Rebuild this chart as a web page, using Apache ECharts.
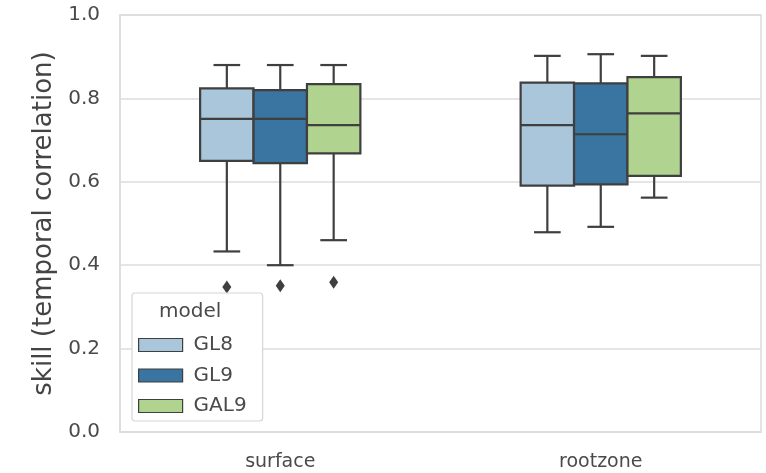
<!DOCTYPE html>
<html>
<head>
<meta charset="utf-8">
<script src="https://cdn.jsdelivr.net/npm/echarts@6/dist/echarts.min.js"></script>
<style>
html,body{margin:0;padding:0;background:#fff;}
#chart{width:766px;height:473px;}
</style>
</head>
<body>
<div id="chart"></div>
<script>
// ---- data ----
const categories = ['surface', 'rootzone'];
const models = ['GL8', 'GL9', 'GAL9'];
const yTicks = [0, 0.2, 0.4, 0.6, 0.8, 1.0];
// per category: [lower whisker, Q1, median, Q3, upper whisker]
const GL8 = [[0.433, 0.650, 0.751, 0.824, 0.880], [0.479, 0.591, 0.736, 0.838, 0.902]];
const GL9 = [[0.400, 0.645, 0.751, 0.820, 0.880], [0.492, 0.594, 0.714, 0.836, 0.906]];
const GAL9 = [[0.460, 0.668, 0.736, 0.834, 0.880], [0.562, 0.614, 0.764, 0.851, 0.902]];
// outliers: [category index, value]
const GL8_out = [[0, 0.348]];
const GL9_out = [[0, 0.351]];
const GAL9_out = [[0, 0.359]];

const boxData = [GL8, GL9, GAL9];
const outData = [GL8_out, GL9_out, GAL9_out];
const colors = ['#aac6db', '#3a74a0', '#b0d490'];
const edge = '#3f3f3f';
const offsets = [-1 / 6, 0, 1 / 6];
const BOX_FRAC = 1 / 6;
const FONT = 'DejaVu Sans';

function boxRender(off) {
  return function (params, api) {
    const cat = api.value(0);
    const band = api.size([1, 0])[0];
    const cx = api.coord([cat, 0])[0] + off * band;
    const w = BOX_FRAC * band;
    const y = i => api.coord([cat, api.value(i)])[1];
    const yMin = y(1), yQ1 = y(2), yMed = y(3), yQ3 = y(4), yMax = y(5);
    const ls = { stroke: edge, lineWidth: 2.2 };
    return {
      type: 'group',
      children: [
        { type: 'line', shape: { x1: cx, y1: yQ3, x2: cx, y2: yMax }, style: ls },
        { type: 'line', shape: { x1: cx, y1: yQ1, x2: cx, y2: yMin }, style: ls },
        { type: 'line', shape: { x1: cx - w / 4, y1: yMax, x2: cx + w / 4, y2: yMax }, style: ls },
        { type: 'line', shape: { x1: cx - w / 4, y1: yMin, x2: cx + w / 4, y2: yMin }, style: ls },
        { type: 'rect', shape: { x: cx - w / 2, y: yQ3, width: w, height: yQ1 - yQ3 },
          style: { fill: api.visual('color'), stroke: edge, lineWidth: 2.2 } },
        { type: 'line', shape: { x1: cx - w / 2, y1: yMed, x2: cx + w / 2, y2: yMed }, style: ls }
      ]
    };
  };
}
function outRender(off) {
  return function (params, api) {
    const cat = api.value(0);
    const band = api.size([1, 0])[0];
    const p = api.coord([cat, api.value(1)]);
    const cx = p[0] + off * band, cy = p[1];
    return {
      type: 'polygon',
      shape: { points: [[cx, cy - 6.5], [cx + 4.5, cy], [cx, cy + 6.5], [cx - 4.5, cy]] },
      style: { fill: edge }
    };
  };
}

const series = [];
models.forEach((m, k) => {
  series.push({
    name: m,
    type: 'custom',
    renderItem: boxRender(offsets[k]),
    itemStyle: { color: colors[k] },
    encode: { x: 0, y: [1, 2, 3, 4, 5] },
    data: boxData[k].map((d, i) => [i].concat(d)),
    z: 3
  });
});
models.forEach((m, k) => {
  series.push({
    name: m + ' outliers',
    type: 'custom',
    renderItem: outRender(offsets[k]),
    itemStyle: { color: edge },
    encode: { x: 0, y: 1 },
    data: outData[k],
    z: 3
  });
});

const chart = echarts.init(document.getElementById('chart'), null, { renderer: 'canvas' });
chart.setOption({
  animation: false,
  backgroundColor: '#fff',
  textStyle: { fontFamily: FONT },
  grid: { left: 120, right: 5, top: 15, bottom: 41, show: true, borderColor: '#dcdcdc', borderWidth: 1.5 },
  title: {
    text: 'model', left: 159, top: 302, z: 10, padding: 0,
    textStyle: { fontFamily: FONT, fontSize: 20, fontWeight: 'normal', color: '#4a4a4a' }
  },
  legend: {
    orient: 'vertical', left: 132, top: 293, z: 9,
    backgroundColor: '#fff', borderColor: '#d6d6d6', borderWidth: 1.2, borderRadius: 3,
    padding: [42, 16, 5, 6],
    itemWidth: 44, itemHeight: 13, itemGap: 10.5,
    textStyle: { fontFamily: FONT, fontSize: 20, color: '#4a4a4a', padding: [0, 0, 0, 6] },
    data: models.map((m, k) => ({
      name: m, icon: 'rect',
      itemStyle: { color: colors[k], borderColor: edge, borderWidth: 1.2 }
    }))
  },
  xAxis: {
    type: 'category', data: categories,
    axisLine: { show: true, lineStyle: { color: '#dcdcdc', width: 1.5 } },
    axisTick: { show: false },
    axisLabel: { fontFamily: FONT, fontSize: 19, color: '#4a4a4a', margin: 21 },
    splitLine: { show: false }
  },
  yAxis: {
    type: 'value', min: 0, max: 1, interval: 0.2,
    name: 'skill (temporal correlation)', nameLocation: 'middle', nameGap: 60,
    nameTextStyle: { fontFamily: FONT, fontSize: 26, color: '#444' },
    axisLine: { show: true, lineStyle: { color: '#dcdcdc', width: 1.5 } },
    axisTick: { show: false },
    axisLabel: { fontFamily: FONT, fontSize: 20, color: '#4a4a4a', margin: 20,
      formatter: v => { const t = yTicks.find(x => Math.abs(x - v) < 1e-9); return (t !== undefined ? t : v).toFixed(1); } },
    splitLine: { show: true, lineStyle: { color: '#dcdcdc', width: 1.5 } }
  },
  series: series
});
</script>
</body>
</html>
